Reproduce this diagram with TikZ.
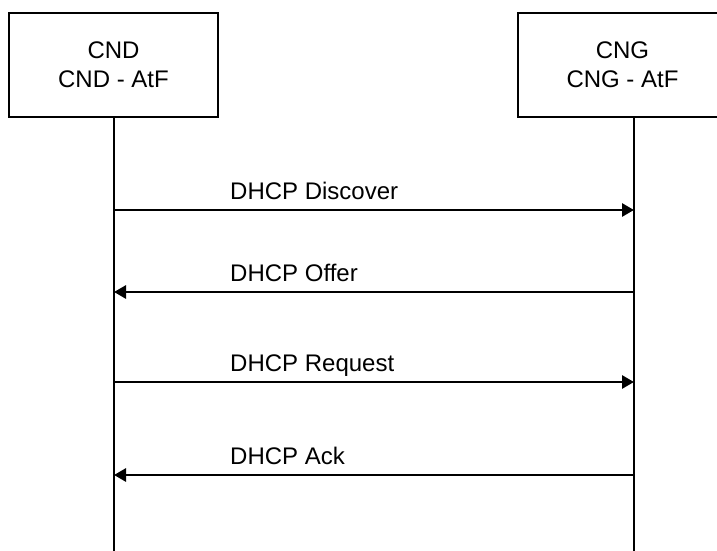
\documentclass[tikz,border=0pt]{standalone}
\usepackage{fontspec}
\setmainfont{Liberation Sans}
\usetikzlibrary{arrows.meta}
\tikzset{
  entity/.style={draw=black, line width=1.4pt, minimum width=209pt, minimum height=104pt,
    align=center, inner sep=0pt, font=\fontsize{24}{29}\selectfont},
  lifeline/.style={line width=1.3pt},
  msg/.style={line width=2.8pt, -{Triangle[length=12pt,width=13pt]}},
  msglabel/.style={anchor=base west, inner sep=0pt, font=\fontsize{24}{28}\selectfont}
}
\begin{document}
\begin{tikzpicture}[x=1pt,y=-1pt]
\clip (0,0) rectangle (717,551);
\useasboundingbox (0,0) rectangle (717,551);
\node[entity] (cnd) at (113.5,65) {CND\\CND - AtF};
\node[entity] (cng) at (622.5,65) {CNG\\CNG - AtF};
\coordinate (dtop) at (114,117);
\coordinate (dbot) at (114,551);
\coordinate (gtop) at (634,117);
\coordinate (gbot) at (634,551);
\draw[lifeline] (dtop) -- (dbot);
\draw[lifeline] (gtop) -- (gbot);
\coordinate (d1) at (114,210); \coordinate (g1) at (634,210);
\coordinate (d2) at (114,292); \coordinate (g2) at (634,292);
\coordinate (d3) at (114,382); \coordinate (g3) at (634,382);
\coordinate (d4) at (114,475); \coordinate (g4) at (634,475);
\draw[msg] (d1) -- (g1);
\draw[msg] (g2) -- (d2);
\draw[msg] (d3) -- (g3);
\draw[msg] (g4) -- (d4);
\node[msglabel] (l1) at (230,199) {DHCP Discover};
\node[msglabel] (l2) at (230,281) {DHCP Offer};
\node[msglabel] (l3) at (230,371) {DHCP Request};
\node[msglabel] (l4) at (230,464) {DHCP Ack};
\end{tikzpicture}
\end{document}
